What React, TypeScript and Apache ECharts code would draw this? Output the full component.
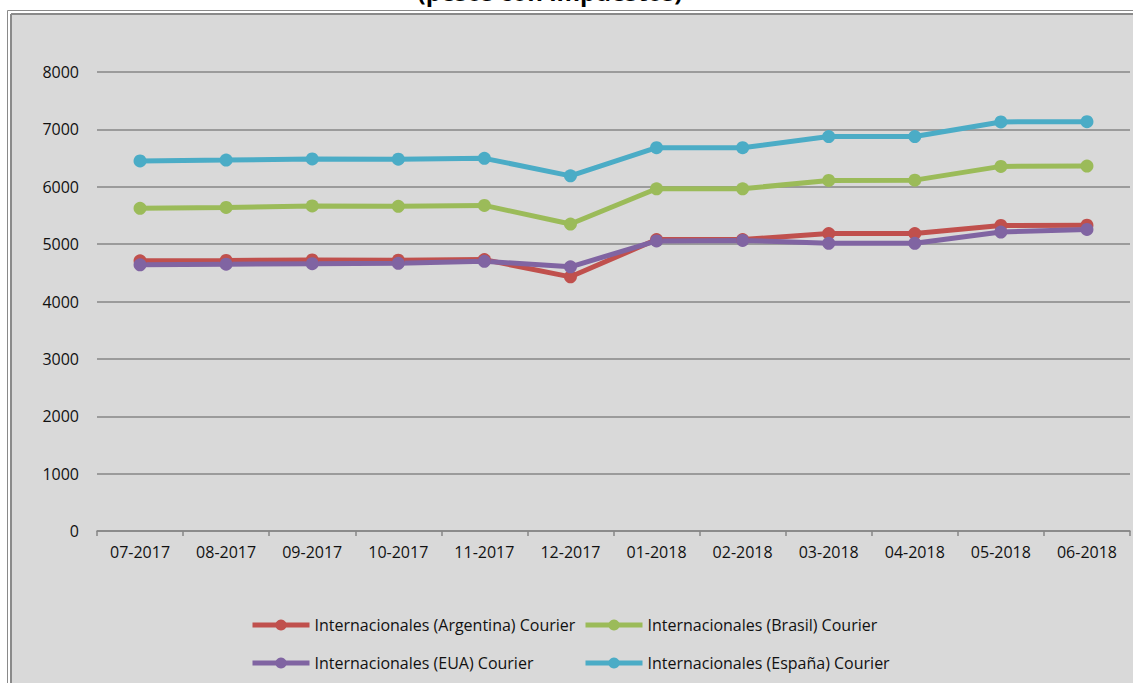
import React, { useEffect, useRef } from "react";
import * as echarts from "echarts";

const titleText = "(pesos con impuestos)";
const categories = ["07-2017", "08-2017", "09-2017", "10-2017", "11-2017", "12-2017", "01-2018", "02-2018", "03-2018", "04-2018", "05-2018", "06-2018"];
const seriesNames = [
  "Internacionales (Argentina) Courier",
  "Internacionales (Brasil) Courier",
  "Internacionales (EUA) Courier",
  "Internacionales (España) Courier",
];
const argentina = [4710, 4715, 4725, 4720, 4730, 4430, 5080, 5080, 5185, 5185, 5325, 5330];
const brasil = [5625, 5640, 5665, 5660, 5675, 5350, 5965, 5965, 6110, 6115, 6355, 6360];
const eua = [4640, 4650, 4660, 4665, 4700, 4605, 5055, 5065, 5015, 5015, 5210, 5255];
const espana = [6450, 6465, 6485, 6480, 6495, 6190, 6680, 6680, 6875, 6875, 7130, 7135];
const colors = ["#C0504D", "#9BBB59", "#8064A2", "#4BACC6"];
const yTicks = { min: 0, max: 8000, interval: 1000 };

const FONT = "Open Sans";
const BORDER = "#8a8a8a";

export default function App() {
  const ref = useRef<HTMLDivElement>(null);
  useEffect(() => {
    if (!ref.current) return;
    document.body.style.margin = "0";
    document.body.style.overflow = "hidden";
    document.documentElement.style.overflow = "hidden";
    const chart = echarts.init(ref.current, null, { renderer: "svg" });
    const values = [argentina, brasil, eua, espana];
    const legendCommon = {
      orient: "vertical",
      padding: 0,
      itemWidth: 57,
      itemHeight: 14,
      itemGap: 22,
      lineStyle: { width: 5 },
      textStyle: { fontFamily: FONT, fontSize: 16, color: "#111111", lineHeight: 16 },
      selectedMode: false,
    };
    chart.setOption({
      animation: false,
      backgroundColor: "#ffffff",
      color: colors,
      graphic: [
        {
          type: "rect",
          z: -10,
          silent: true,
          shape: { x: 12, y: 15, width: 1121, height: 668 },
          style: { fill: "#d9d9d9" },
        },
        { type: "line", z: -5, silent: true, shape: { x1: 7.5, y1: 10.5, x2: 1133, y2: 10.5 }, style: { stroke: BORDER, lineWidth: 1 } },
        { type: "line", z: -5, silent: true, shape: { x1: 7.5, y1: 10.5, x2: 7.5, y2: 683 }, style: { stroke: BORDER, lineWidth: 1 } },
        { type: "line", z: -5, silent: true, shape: { x1: 11, y1: 14, x2: 1133, y2: 14 }, style: { stroke: BORDER, lineWidth: 2 } },
        { type: "line", z: -5, silent: true, shape: { x1: 11, y1: 14, x2: 11, y2: 683 }, style: { stroke: BORDER, lineWidth: 2 } },
        {
          type: "text",
          x: 550,
          y: 3,
          style: {
            text: titleText,
            fontFamily: FONT,
            fontSize: 24,
            fontWeight: "bold",
            fill: "#000000",
            align: "center",
            verticalAlign: "bottom",
          },
        },
      ],
      grid: { left: 97, right: 3, top: 72, bottom: 152, containLabel: false },
      legend: [
        { ...legendCommon, left: 250, top: 617, data: [seriesNames[0], seriesNames[2]] },
        { ...legendCommon, left: 583, top: 617, data: [seriesNames[1], seriesNames[3]] },
      ],
      xAxis: {
        type: "category",
        data: categories,
        boundaryGap: true,
        axisLine: { lineStyle: { color: "#868686", width: 1.5 } },
        axisTick: { show: true, length: 5, lineStyle: { color: "#868686", width: 1.5 } },
        axisLabel: { fontFamily: FONT, fontSize: 16, color: "#111111", margin: 13 },
      },
      yAxis: {
        type: "value",
        min: yTicks.min,
        max: yTicks.max,
        interval: yTicks.interval,
        axisLine: { show: false },
        axisTick: { show: false },
        splitLine: { lineStyle: { color: "#868686", width: 1.5 } },
        axisLabel: {
          fontFamily: FONT,
          fontSize: 16,
          color: "#111111",
          margin: 18,
          formatter: (v: number) => String(v),
        },
      },
      series: seriesNames.map((name, i) => ({
        name,
        type: "line",
        data: values[i],
        symbol: "circle",
        symbolSize: 13,
        lineStyle: { width: 5, color: colors[i] },
        itemStyle: { color: colors[i] },
      })),
    });
    return () => chart.dispose();
  }, []);
  return <div ref={ref} style={{ position: "absolute", left: 0, top: 0, width: 1133, height: 683 }} />;
}
